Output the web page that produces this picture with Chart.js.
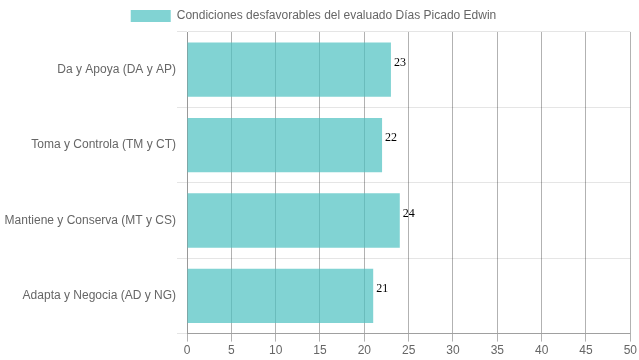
<!DOCTYPE html>
<html><head><meta charset="utf-8">
<script src="https://cdn.jsdelivr.net/npm/chart.js@4"></script>
<style>html,body{margin:0;padding:0;background:#fff}#wrap{width:639px;height:360px}</style>
</head><body><div id="wrap"><canvas id="c"></canvas></div>
<script>
const categories = ["Da y Apoya (DA y AP)", "Toma y Controla (TM y CT)", "Mantiene y Conserva (MT y CS)", "Adapta y Negocia (AD y NG)"];
const values = [23, 22, 24, 21];
const seriesName = "Condiciones desfavorables del evaluado Días Picado Edwin";
const xTicks = [0, 5, 10, 15, 20, 25, 30, 35, 40, 45, 50];

Chart.defaults.font.family = "'Liberation Sans', Arial, sans-serif";
Chart.defaults.font.size = 12;
Chart.defaults.color = '#666';

const labelPlugin = {
  id: 'vals',
  afterLayout(chart) {
    chart.legend.left -= 2;
    chart.legend.right -= 2;
  },
  afterDatasetsDraw(chart) {
    const ctx = chart.ctx;
    ctx.save();
    ctx.font = "12px 'Liberation Serif', 'Times New Roman', serif";
    ctx.fillStyle = '#000';
    ctx.textBaseline = 'middle';
    ctx.textAlign = 'left';
    chart.getDatasetMeta(0).data.forEach((bar, i) => {
      ctx.fillText(String(values[i]), bar.x + 3, bar.y - 7);
    });
    ctx.restore();
  }
};

new Chart(document.getElementById('c'), {
  type: 'bar',
  data: {
    labels: categories,
    datasets: [{
      label: seriesName,
      data: values,
      backgroundColor: 'rgba(75,192,192,0.7)',
      borderWidth: 0
    }]
  },
  options: {
    indexAxis: 'y',
    responsive: true,
    maintainAspectRatio: false,
    animation: false,
    layout: { padding: { right: 8 } },
    plugins: {
      legend: { labels: { boxWidth: 40, color: '#666' } },
      tooltip: { enabled: false }
    },
    scales: {
      x: {
        min: 0, max: 50,
        afterBuildTicks(scale) { scale.ticks = xTicks.map(v => ({ value: v })); },
        grid: { color: 'rgba(0,0,0,0.3)' },
        border: { color: 'rgba(0,0,0,0.3)' },
        ticks: { color: '#666', padding: 2 }
      },
      y: {
        afterFit(scale) { scale.width = 187; },
        grid: { color: 'rgba(0,0,0,0.1)', tickLength: 10 },
        border: { color: 'rgba(0,0,0,0.15)' },
        ticks: { color: '#666', padding: 1 }
      }
    }
  },
  plugins: [labelPlugin]
});
</script></body></html>
